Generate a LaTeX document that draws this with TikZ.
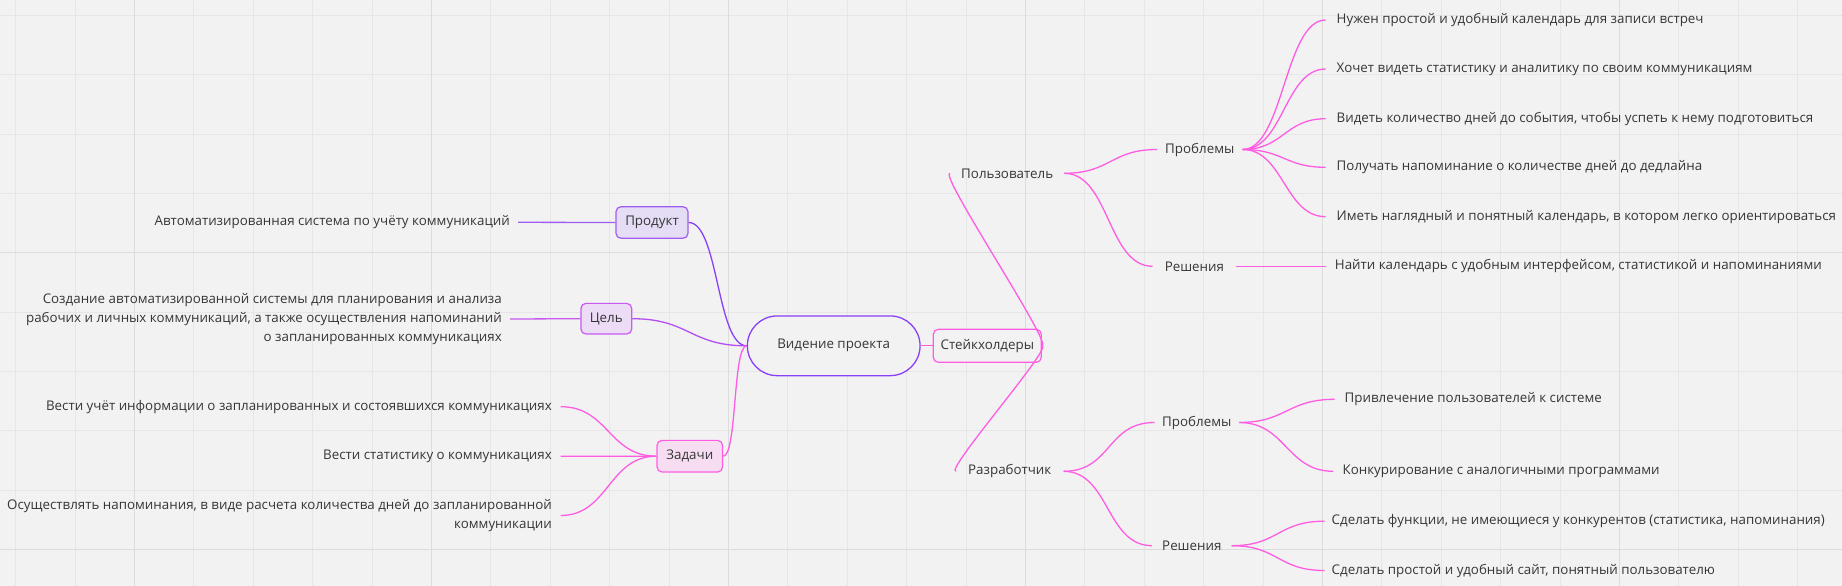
\documentclass[tikz,border=0pt]{standalone}
\usepackage{fontspec}
\setmainfont{Open Sans}
\definecolor{bgc}{HTML}{F2F2F2}
\definecolor{gridc}{HTML}{E6E6E6}
\definecolor{gridm}{HTML}{DCDCDC}
\definecolor{txtc}{HTML}{363636}
\definecolor{vio}{HTML}{8A40F8}
\definecolor{prodb}{HTML}{A05CF2}
\definecolor{prodf}{HTML}{E5DCF5}
\definecolor{goalb}{HTML}{C85AF0}
\definecolor{goalf}{HTML}{ECDCF5}
\definecolor{goalc}{HTML}{B44EF4}
\definecolor{mag}{HTML}{FF5CE4}
\definecolor{taskf}{HTML}{F6DDF2}
\tikzset{
  lbl/.style={inner ysep=2pt, text=txtc},
  pbox/.style={draw, rounded corners=5pt, line width=1.2pt, inner sep=0pt, text=txtc},
  con/.style={line width=1.3pt},
}
\begin{document}
\begin{tikzpicture}[x=1pt,y=-1pt,font=\fontsize{13.35}{18.8}\selectfont]
\useasboundingbox (0,0) rectangle (1842,586);
\fill[bgc] (0,0) rectangle (1842,586);
\foreach \i in {0,...,30} {\draw[gridc,line width=1pt] ({15.6+59.4*\i},0) -- ({15.6+59.4*\i},586);}
\foreach \i in {0,...,9} {\draw[gridc,line width=1pt] (0,{15.7+59.3*\i}) -- (1842,{15.7+59.3*\i});}
\foreach \i in {2,7,12,17,22,27} {\draw[gridm,line width=1pt] ({15.6+59.4*\i},0) -- ({15.6+59.4*\i},586);}
\foreach \i in {4,9} {\draw[gridm,line width=1pt] (0,{15.7+59.3*\i}) -- (1842,{15.7+59.3*\i});}

% central and first level
\node[draw=vio, line width=1.3pt, rounded corners=29.8pt, minimum width=172.7pt, minimum height=59.7pt, fill=bgc, text=txtc] (vis) at (833.7,345.8) {Видение проекта};
\node[pbox, draw=prodb, fill=prodf, minimum width=72pt, minimum height=31.6pt] (prod) at (652,222.5) {Продукт};
\node[pbox, draw=goalb, fill=goalf, minimum width=50.7pt, minimum height=30.7pt] (goal) at (606.3,318.7) {Цель};
\node[pbox, draw=mag, fill=taskf, minimum width=65.5pt, minimum height=31.7pt] (task) at (689.8,456.2) {Задачи};
\node[pbox, draw=mag, fill=bgc, minimum width=108pt, minimum height=33pt] (stake) at (987.3,345.8) {Стейкхолдеры};

% left leaves
\node[lbl, anchor=east, inner xsep=8pt] (tprod) at (518,222.3) {Автоматизированная система по учёту коммуникаций};
\node[lbl, anchor=east, inner xsep=8pt, align=right] (tgoal) at (510,319) {Создание автоматизированной системы для планирования и анализа\\рабочих и личных коммуникаций, а также осуществления напоминаний\\о запланированных коммуникациях};
\node[lbl, anchor=east, inner xsep=8.6pt] (t1) at (560.6,406.7) {Вести учёт информации о запланированных и состоявшихся коммуникациях};
\node[lbl, anchor=east, inner xsep=8.6pt] (t2) at (560.6,456.3) {Вести статистику о коммуникациях};
\node[lbl, anchor=east, inner xsep=8.6pt, align=right] (t3) at (560.6,515.5) {Осуществлять напоминания, в виде расчета количества дней до запланированной\\коммуникации};

% right side second level
\node[lbl, anchor=west, inner xsep=11pt] (user) at (950,173.3) {Пользователь};
\node[lbl, anchor=west, inner xsep=12pt] (dev) at (956,471.3) {Разработчик};
\node[lbl, anchor=west, inner xsep=8pt] (up) at (1157,149.5) {Проблемы};
\node[lbl, anchor=west, inner xsep=12pt] (us) at (1152.6,266.3) {Решения};
\node[lbl, anchor=west, inner xsep=7.5pt] (dp) at (1154.5,422.5) {Проблемы};
\node[lbl, anchor=west, inner xsep=10pt] (ds) at (1152,545.7) {Решения};

% right leaves
\node[lbl, anchor=west, inner xsep=10.8pt] (u1) at (1325.7,20) {Нужен простой и удобный календарь для записи встреч};
\node[lbl, anchor=west, inner xsep=10.8pt] (u2) at (1325.7,69) {Хочет видеть статистику и аналитику по своим коммуникациям};
\node[lbl, anchor=west, inner xsep=10.8pt] (u3) at (1325.7,118.7) {Видеть количество дней до события, чтобы успеть к нему подготовиться};
\node[lbl, anchor=west, inner xsep=10.8pt] (u4) at (1325.7,167.3) {Получать напоминание о количестве дней до дедлайна};
\node[lbl, anchor=west, inner xsep=10.8pt] (u5) at (1325.7,216.7) {Иметь наглядный и понятный календарь, в котором легко ориентироваться};
\node[lbl, anchor=west, inner xsep=9pt] (u6) at (1325.7,266.3) {Найти календарь с удобным интерфейсом, статистикой и напоминаниями};
\node[lbl, anchor=west, inner xsep=10pt] (d1) at (1334.5,399.3) {Привлечение пользователей к системе};
\node[lbl, anchor=west, inner xsep=9pt] (d2) at (1333.4,471.3) {Конкурирование с аналогичными программами};
\node[lbl, anchor=west, inner xsep=7pt] (d3) at (1324.5,521.2) {Сделать функции, не имеющиеся у конкурентов (статистика, напоминания)};
\node[lbl, anchor=west, inner xsep=7pt] (d4) at (1324.5,570.5) {Сделать простой и удобный сайт, понятный пользователю};

% connectors
\begin{scope}[con]
\draw[vio] (prod.east) .. controls +(30,0) and +(-30,0) .. (vis.west);
\draw[goalc] (goal.east) .. controls +(57,0) and +(-57,0) .. (vis.west);
\draw[mag] (task.east) .. controls +(14,0) and +(-14,0) .. (vis.west);
\draw[prodb] (tprod.east) -- (prod.west);
\draw[goalb] (tgoal.east) -- (goal.west);
\draw[mag] (t1.east) .. controls +(48,0) and +(-48,0) .. (task.west);
\draw[mag] (t2.east) -- (task.west);
\draw[mag] (t3.east) .. controls +(48,0) and +(-48,0) .. (task.west);

\draw[mag] (vis.east) -- (stake.west);
\draw[mag] (stake.east) .. controls +(12,0) and +(-12,0) .. (user.west);
\draw[mag] (stake.east) .. controls +(12,0) and +(-12,0) .. (dev.west);
\draw[mag] (user.east) .. controls +(46,0) and +(-46,0) .. (up.west);
\draw[mag] (user.east) .. controls +(45,0) and +(-45,0) .. (us.west);
\foreach \n in {u1,u2,u3,u4,u5} {\draw[mag] (up.east) .. controls +(41,0) and +(-41,0) .. (\n.west);}
\draw[mag] (us.east) -- (u6.west);
\draw[mag] (dev.east) .. controls +(48,0) and +(-48,0) .. (dp.west);
\draw[mag] (dev.east) .. controls +(46,0) and +(-46,0) .. (ds.west);
\draw[mag] (dp.east) .. controls +(47,0) and +(-47,0) .. (d1.west);
\draw[mag] (dp.east) .. controls +(47,0) and +(-47,0) .. (d2.west);
\draw[mag] (ds.east) .. controls +(47,0) and +(-47,0) .. (d3.west);
\draw[mag] (ds.east) .. controls +(47,0) and +(-47,0) .. (d4.west);
\end{scope}
\end{tikzpicture}
\end{document}
